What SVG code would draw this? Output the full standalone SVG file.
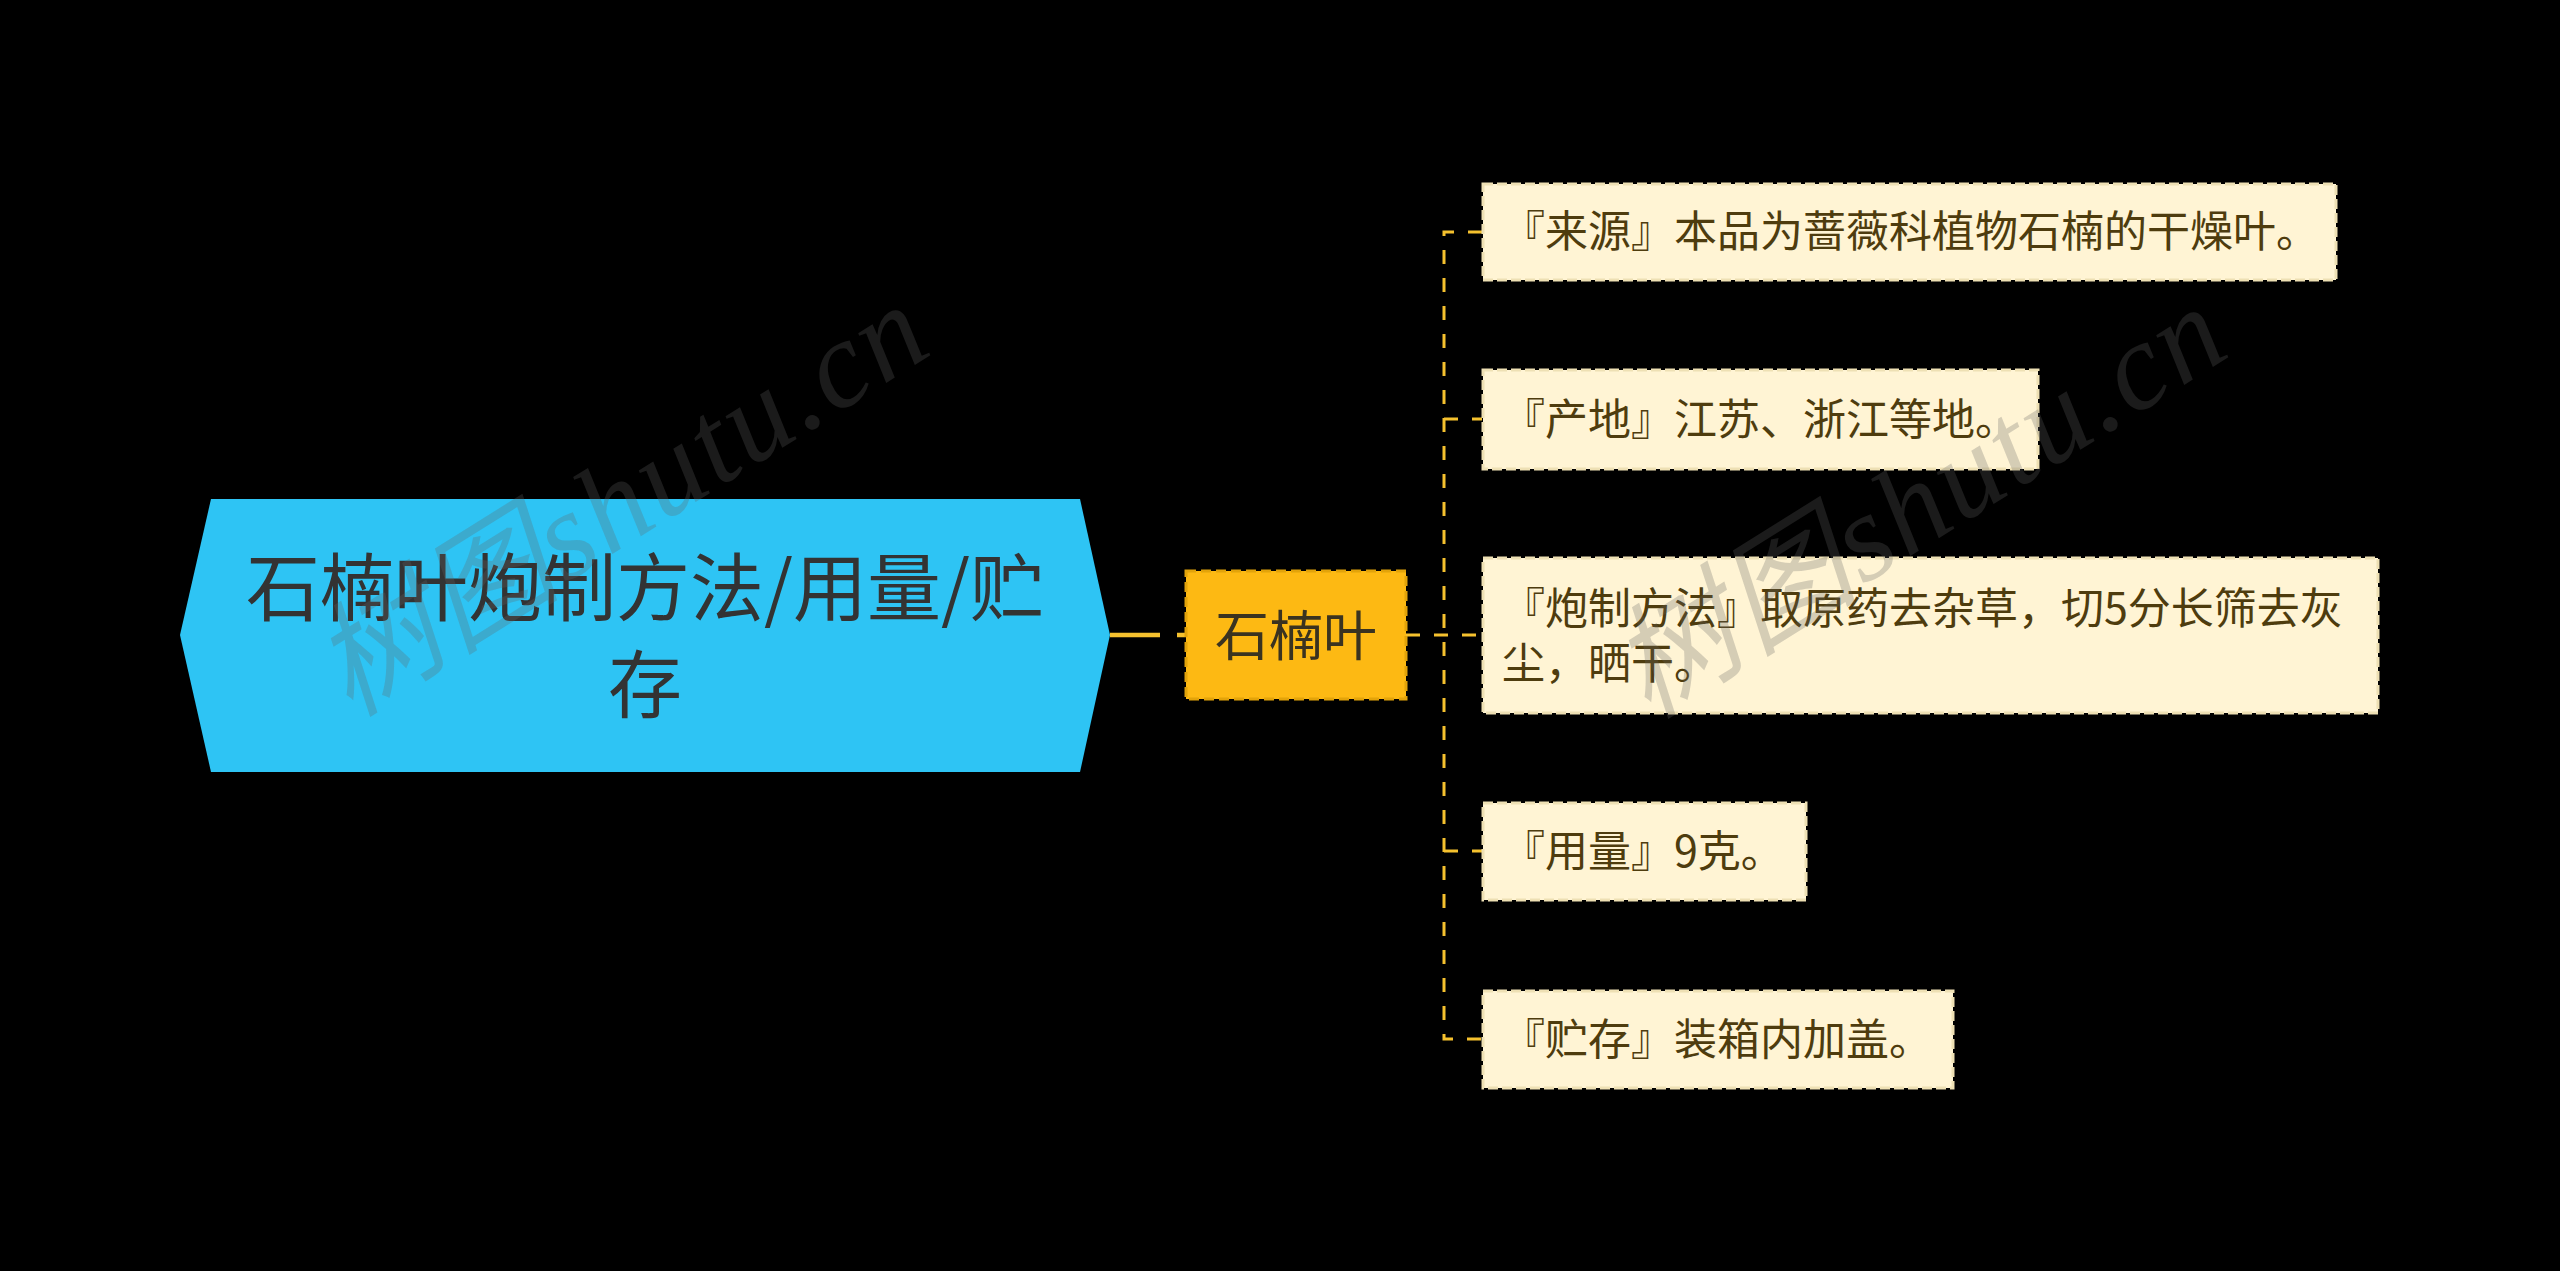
<svg xmlns="http://www.w3.org/2000/svg" width="2560" height="1271" viewBox="0 0 2560 1271">
<style>
.bg{fill:#000000}
.root{fill:#2EC4F4}
.roottext{font-family:"Noto Sans CJK SC","Noto Sans",sans-serif;font-size:74px;fill:#333333;text-anchor:middle}
.main{fill:#FDB913;stroke:#E2A30A;stroke-width:3;stroke-dasharray:10 5}
.maintext{font-family:"Noto Sans CJK SC","Noto Sans",sans-serif;font-size:54px;fill:#3A3320;text-anchor:middle}
.leaf{fill:#FFF4D4;stroke:#EEE0B4;stroke-width:3;stroke-dasharray:10 4}
.leaftext{font-family:"Noto Sans CJK SC","Noto Sans",sans-serif;font-size:43px;fill:#4E3C0E}
.conn{fill:none;stroke:#F5C12E;stroke-width:3;stroke-dasharray:14 14}
.conn0{fill:none;stroke:#F5C12E;stroke-width:4.5;stroke-dasharray:50 17}
.wm{font-family:"Liberation Serif","Noto Sans CJK SC",serif;font-style:italic;font-size:124px;fill:#646464;fill-opacity:0.27}
</style>
<rect class="bg" x="0" y="0" width="2560" height="1271"/>
<g id="connectors">
<path class="conn0" d="M1110,635 H1186"/>
<path class="conn" d="M1482,232 H1444 V1039 H1482"/>
<path class="conn" d="M1406,635 H1482"/>
<path class="conn" d="M1444,419 H1482"/>
<path class="conn" d="M1444,851 H1482"/>
</g>
<g id="root">
<polygon class="root" points="211,499 1080,499 1110,635 1080,772 211,772 180,635"/>
<text class="roottext" x="645" y="615">石楠叶炮制方法/用量/贮</text>
<text class="roottext" x="645" y="712">存</text>
</g>
<g id="main">
<rect class="main" x="1186" y="571" width="220" height="128"/>
<text class="maintext" x="1296" y="656">石楠叶</text>
</g>
<g id="leaf1">
<rect class="leaf" x="1483" y="184" width="853" height="96"/>
<text class="leaftext" x="1502" y="247">『来源』本品为蔷薇科植物石楠的干燥叶。</text>
</g>
<g id="leaf2">
<rect class="leaf" x="1483" y="370" width="555" height="99"/>
<text class="leaftext" x="1502" y="435">『产地』江苏、浙江等地。</text>
</g>
<g id="leaf3">
<rect class="leaf" x="1483" y="558" width="895" height="155"/>
<text class="leaftext" x="1502" y="624">『炮制方法』取原药去杂草，切5分长筛去灰</text>
<text class="leaftext" x="1502" y="679">尘，晒干。</text>
</g>
<g id="leaf4">
<rect class="leaf" x="1483" y="803" width="323" height="97"/>
<text class="leaftext" x="1502" y="867">『用量』9克。</text>
</g>
<g id="leaf5">
<rect class="leaf" x="1483" y="991" width="470" height="97"/>
<text class="leaftext" x="1502" y="1055">『贮存』装箱内加盖。</text>
</g>
<g id="watermarks">
<text class="wm" transform="translate(350,718) rotate(-32)" textLength="690" lengthAdjust="spacing">树图shutu.cn</text>
<text class="wm" transform="translate(1648,720) rotate(-32)" textLength="690" lengthAdjust="spacing">树图shutu.cn</text>
</g>
</svg>
